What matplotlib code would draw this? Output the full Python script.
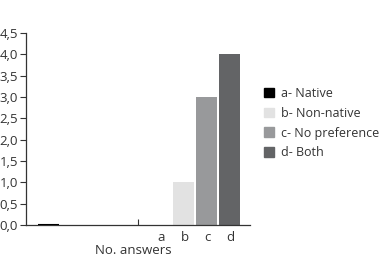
import matplotlib.pyplot as plt
import numpy as np

plt.rcParams['font.family'] = ['Open Sans', 'DejaVu Sans']

# two category groups, four series each
groups = ['', 'No. answers']
series = ['a- Native', 'b- Non-native', 'c- No preference', 'd- Both']
short = ['a', 'b', 'c', 'd']
native = [0, 0]
non_native = [0, 1]
no_pref = [0, 3]
both = [0, 4]
values = [native, non_native, no_pref, both]
colors = ['#000000', '#e2e2e2', '#98999b', '#636466']
yticks = np.arange(0, 4.51, 0.5)

fig = plt.figure(figsize=(3.86, 2.56), dpi=100)
ax = fig.add_axes([0.067, 0.121, 0.581, 0.75])

width = 0.19
for i, (name, vals, c) in enumerate(zip(series, values, colors)):
    x = np.arange(len(groups)) + 0.2 + 0.205 * i
    ax.bar(x, vals, width, color=c, label=name)
# the zero-height native bar in the first group still shows as a line
ax.plot([0.2 - width / 2, 0.2 + width / 2], [0, 0], color='#000000', lw=1.5,
        solid_capstyle='butt', zorder=3)

ax.set_xlim(0, 2)
ax.set_ylim(0, 4.5)
ax.set_yticks(yticks)
ax.set_yticklabels(['{:.1f}'.format(t).replace('.', ',') for t in yticks])
ax.set_xticks([1])
ax.set_xticklabels([''])
ax.tick_params(axis='x', direction='in', length=4, color='#333333')
ax.tick_params(axis='y', direction='out', length=4, color='#333333',
               labelsize=9.5, labelcolor='#333333', pad=1.5)
for s in ['top', 'right']:
    ax.spines[s].set_visible(False)
for s in ['left', 'bottom']:
    ax.spines[s].set_color('#333333')
    ax.spines[s].set_linewidth(0.9)

for i, lab in enumerate(short):
    ax.text(1.21 + 0.205 * i, -0.03, lab, ha='center', va='top',
            fontsize=9.5, color='#333333', transform=ax.get_xaxis_transform())
ax.text(0.48, -0.098, 'No. answers', ha='center', va='top', fontsize=9.5,
        color='#333333', transform=ax.transAxes)

handles = [plt.Rectangle((0, 0), 1, 1, color=c) for c in colors]
fig.legend(handles, series, loc='upper left', bbox_to_anchor=(0.655, 0.705),
           frameon=False, fontsize=9, handlelength=0.8, handleheight=0.8,
           handletextpad=0.55, labelspacing=0.55, labelcolor='#333333')

fig.savefig('out.png', dpi=100)
